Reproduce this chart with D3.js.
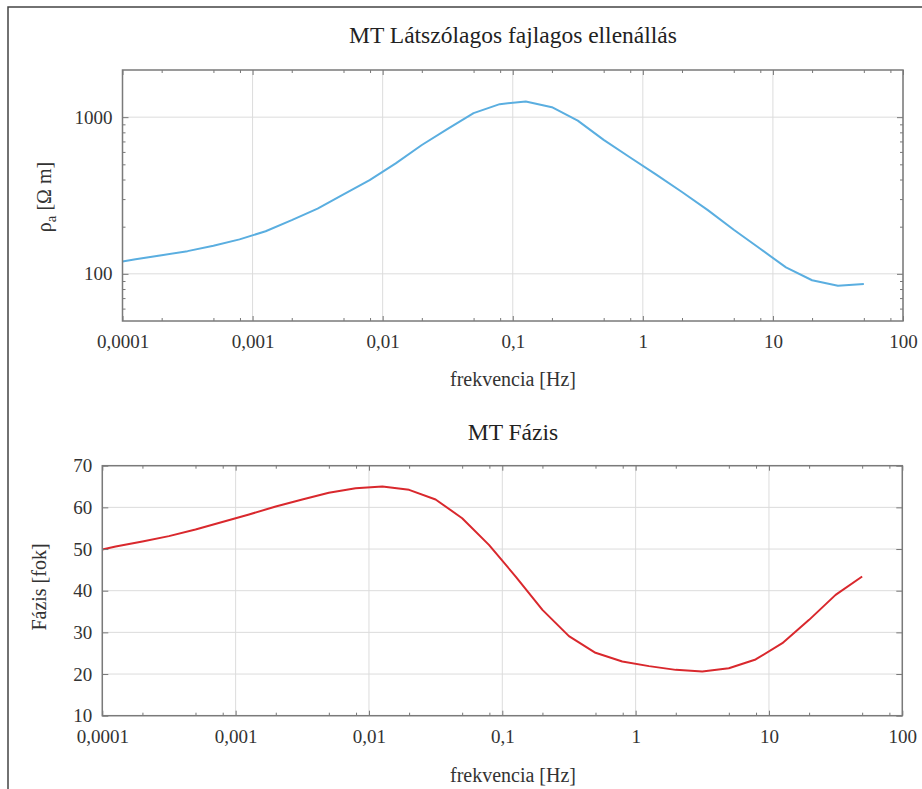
<!DOCTYPE html>
<html>
<head>
<meta charset="utf-8">
<script src="https://cdn.jsdelivr.net/npm/d3@7"></script>
<style>
  body { margin: 0; background: #fff; }
  svg { display: block; font-family: 'Liberation Serif', 'DejaVu Serif', serif; }
  .tick text { fill: #333; }
</style>
</head>
<body>
<div id="chart"></div>
<script>
// frequencies [Hz], same for both curves
const freq = [0.0001, 0.000126, 0.0002, 0.000316, 0.0005, 0.000794,
  0.00126, 0.002, 0.00316, 0.005, 0.00794, 0.0126, 0.02, 0.0316, 0.05, 0.0794,
  0.126, 0.2, 0.316, 0.5, 0.794, 1.26, 2, 3.16, 5, 7.94, 12.6, 20, 31.6, 50]

// apparent resistivity [ohm m]
const rhoA = [120, 124, 131.6, 139.6, 151, 166, 187, 220, 261, 321, 396, 507,
  664, 841, 1061, 1211, 1259, 1158, 951, 716, 555, 431, 333, 255, 191, 145,
  110, 91, 84, 86]

// phase [degree]
const phase = [49.9, 50.6, 51.8, 53.1, 54.7, 56.5, 58.3, 60.2, 61.9, 63.5,
  64.6, 65.0, 64.2, 61.9, 57.4, 51.0, 43.4, 35.4, 29.1, 25.1, 23.0, 21.9, 21.0,
  20.6, 21.4, 23.5, 27.4, 33.0, 39.0, 43.4]

const xTicks = [0.0001, 0.001, 0.01, 0.1, 1, 10, 100]
const xTickLabels = ['0,0001', '0,001', '0,01', '0,1', '1', '10', '100']
const rhoTicks = [100, 1000]
const phaseTicks = [10, 20, 30, 40, 50, 60, 70]

const W = 922
const H = 789
const serif = "'Liberation Serif', 'DejaVu Serif', serif"

const svg = d3.select('#chart')
  .append('svg')
  .attr('width', W)
  .attr('height', H)

// outer border (only left and top are visible in the picture)
svg.append('path')
  .attr('d', 'M8,' + (H + 5) + 'V7H' + (W + 5))
  .attr('fill', 'none')
  .attr('stroke', '#444')
  .attr('stroke-width', 1.5)

// minor tick helpers
const xMinor = []
xTicks.slice(0, -1).forEach(function (d) { [2, 5, 8].forEach(function (m) { xMinor.push(d * m) }) })

function drawPanel (opt) {
  const g = svg.append('g')
  const x = d3.scaleLog().domain([0.0001, 100]).range([opt.left, opt.right])
  const y = opt.yScale.range([opt.bottom, opt.top])

  // grid
  g.selectAll('.gx')
    .data(xTicks)
    .enter()
    .append('line')
    .attr('x1', function (d) { return x(d) })
    .attr('x2', function (d) { return x(d) })
    .attr('y1', opt.top)
    .attr('y2', opt.bottom)
    .attr('stroke', '#dcdcdc')
    .attr('stroke-width', 1)
  g.selectAll('.gy')
    .data(opt.yTicks)
    .enter()
    .append('line')
    .attr('x1', opt.left)
    .attr('x2', opt.right)
    .attr('y1', function (d) { return y(d) })
    .attr('y2', function (d) { return y(d) })
    .attr('stroke', '#dcdcdc')
    .attr('stroke-width', 1)

  // curve
  const line = d3.line()
    .x(function (d, i) { return x(freq[i]) })
    .y(function (d) { return y(d) })
  g.append('path')
    .datum(opt.values)
    .attr('d', line)
    .attr('fill', 'none')
    .attr('stroke', opt.color)
    .attr('stroke-width', 2)
    .attr('stroke-linejoin', 'round')

  // axes: major ticks with labels, minor ticks, mirrored on top / right
  const axisStyle = function (sel) {
    sel.attr('font-family', serif).attr('font-size', 19)
    sel.select('.domain').remove()
    sel.selectAll('.tick line').attr('stroke', '#777')
  }
  g.append('g')
    .attr('transform', 'translate(0,' + opt.bottom + ')')
    .call(d3.axisBottom(x).tickValues(xTicks)
      .tickFormat(function (d, i) { return xTickLabels[i] })
      .tickSize(-5).tickPadding(opt.xPad))
    .call(axisStyle)
  g.append('g')
    .attr('transform', 'translate(0,' + opt.bottom + ')')
    .call(d3.axisBottom(x).tickValues(xMinor).tickFormat('').tickSize(-3))
    .call(axisStyle)
  g.append('g')
    .attr('transform', 'translate(0,' + opt.top + ')')
    .call(d3.axisTop(x).tickValues(xTicks).tickFormat('').tickSize(-5))
    .call(axisStyle)
  g.append('g')
    .attr('transform', 'translate(0,' + opt.top + ')')
    .call(d3.axisTop(x).tickValues(xMinor).tickFormat('').tickSize(-3))
    .call(axisStyle)

  g.append('g')
    .attr('transform', 'translate(' + opt.left + ',0)')
    .call(d3.axisLeft(y).tickValues(opt.yTicks).tickFormat(d3.format('d'))
      .tickSize(-6).tickPadding(opt.yPad))
    .call(axisStyle)
  g.append('g')
    .attr('transform', 'translate(' + opt.right + ',0)')
    .call(d3.axisRight(y).tickValues(opt.yTicks).tickFormat('').tickSize(-6))
    .call(axisStyle)
  if (opt.yMinor) {
    g.append('g')
      .attr('transform', 'translate(' + opt.left + ',0)')
      .call(d3.axisLeft(y).tickValues(opt.yMinor).tickFormat('').tickSize(-3))
      .call(axisStyle)
    g.append('g')
      .attr('transform', 'translate(' + opt.right + ',0)')
      .call(d3.axisRight(y).tickValues(opt.yMinor).tickFormat('').tickSize(-3))
      .call(axisStyle)
  }

  // frame
  g.append('rect')
    .attr('x', opt.left)
    .attr('y', opt.top)
    .attr('width', opt.right - opt.left)
    .attr('height', opt.bottom - opt.top)
    .attr('fill', 'none')
    .attr('stroke', '#7a7a7a')
    .attr('stroke-width', 1.5)

  // titles
  g.append('text')
    .attr('x', 513)
    .attr('y', opt.titleY)
    .attr('text-anchor', 'middle')
    .attr('font-size', 23.5)
    .attr('fill', '#222')
    .text(opt.title)
  g.append('text')
    .attr('x', 513)
    .attr('y', opt.xLabelY)
    .attr('text-anchor', 'middle')
    .attr('font-size', 20)
    .attr('fill', '#333')
    .text('frekvencia [Hz]')

  const yl = g.append('text')
    .attr('transform', 'translate(' + opt.yLabelX + ',' + opt.yLabelY + ') rotate(-90)')
    .attr('text-anchor', 'middle')
    .attr('font-size', 20)
    .attr('fill', '#333')
  opt.yLabel(yl)
}

// apparent resistivity panel
const yMinorRho = [60, 70, 80, 90, 200, 300, 400, 500, 600, 700, 800, 900]
drawPanel({
  left: 122.5,
  right: 903,
  top: 70,
  bottom: 321,
  yScale: d3.scaleLog().domain([50, 2000]),
  yTicks: rhoTicks,
  yMinor: yMinorRho,
  values: rhoA,
  color: '#5aaee0',
  xPad: 14,
  yPad: 10,
  title: 'MT Látszólagos fajlagos ellenállás',
  titleY: 43,
  xLabelY: 386,
  yLabelX: 51,
  yLabelY: 197,
  yLabel: function (t) {
    t.append('tspan').text('ρ')
    t.append('tspan').attr('dy', 5).attr('font-size', 15).text('a')
    t.append('tspan').attr('dy', -5).text(' [Ω m]')
  }
})

// phase panel
drawPanel({
  left: 102.3,
  right: 902.3,
  top: 465.7,
  bottom: 715.7,
  yScale: d3.scaleLinear().domain([10, 70]),
  yTicks: phaseTicks,
  yMinor: null,
  values: phase,
  color: '#d9282d',
  xPad: 14,
  yPad: 10,
  title: 'MT Fázis',
  titleY: 440,
  xLabelY: 782,
  yLabelX: 46,
  yLabelY: 587,
  yLabel: function (t) { t.text('Fázis [fok]') }
})
</script>
</body>
</html>
